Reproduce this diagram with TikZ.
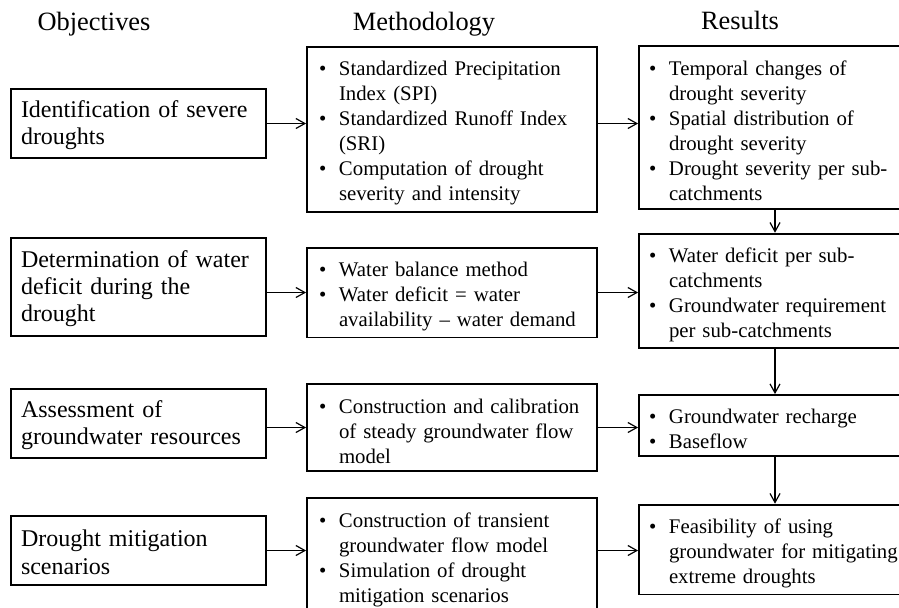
\documentclass[tikz,border=0pt]{standalone}
\usepackage{fontspec}
\setmainfont{Liberation Serif}
\usetikzlibrary{arrows.meta}
\newcommand{\bitem}{\makebox[10pt][l]{\textbullet}}
\newcommand{\bcont}{\makebox[10pt]{}}
\begin{document}
\begin{tikzpicture}[x=0.5pt, y=-0.5pt, head/.style={anchor=base, font=\fontsize{13.2}{15}\selectfont}, objbox/.style={draw, line width=0.9pt, minimum width=127.5pt, text width=117.5pt, inner xsep=5pt, align=left, font=\fontsize{12}{13.7}\selectfont, execute at begin node={\rule{0pt}{10pt}}}, methbox/.style={draw, line width=0.9pt, minimum width=145pt, text width=133pt, inner xsep=6pt, align=left, font=\fontsize{10.4}{12.5}\selectfont, execute at begin node={\rule{0pt}{11pt}}}, resbox/.style={draw, line width=0.9pt, minimum width=136pt, text width=126pt, inner xsep=5pt, align=left, font=\fontsize{10.4}{12.5}\selectfont, execute at begin node={\rule{0pt}{11pt}}}, arr/.style={-{Straight Barb[length=4.5pt,width=5pt]}, line width=0.6pt}]
      \useasboundingbox (0,0) rectangle (899,607);
      \clip (0,0) rectangle (899,607);

      \node[head] (h1) at (94,30) {Objectives};
      \node[head] (h2) at (424,30) {Methodology};
      \node[head] (h3) at (740,29) {Results};

      \node[objbox, minimum height=34.5pt] (o1) at (138.5,123.5) {Identification of severe\\droughts};
      \node[objbox, minimum height=49pt]   (o2) at (138.5,287) {Determination of water\\deficit during the\\drought};
      \node[objbox, minimum height=34.5pt] (o3) at (138.5,423.5) {Assessment of\\groundwater resources};
      \node[objbox, minimum height=34.5pt] (o4) at (138.5,550.5) {Drought mitigation\\scenarios};

      \node[methbox, minimum height=81.5pt] (m1) at (452,129.5) {\bitem Standardized Precipitation\\\bcont Index (SPI)\\\bitem Standardized Runoff Index\\\bcont (SRI)\\\bitem Computation of drought\\\bcont severity and intensity};
      \node[methbox, minimum height=43.5pt] (m2) at (452,292.5) {\bitem Water balance method\\\bitem Water deficit = water\\\bcont availability -- water demand};
      \node[methbox, minimum height=43.5pt] (m3) at (452,427.5) {\bitem Construction and calibration\\\bcont of steady groundwater flow\\\bcont model};
      \node[methbox, minimum height=58.5pt] (m4) at (452,556.5) {\bitem Construction of transient\\\bcont groundwater flow model\\\bitem Simulation of drought\\\bcont mitigation scenarios};

      \node[resbox, minimum height=81.5pt] (r1) at (775,127.5) {\bitem Temporal changes of\\\bcont drought severity\\\bitem Spatial distribution of\\\bcont drought severity\\\bitem Drought severity per sub-\\\bcont catchments};
      \node[resbox, minimum height=56pt]   (r2) at (775,291) {\bitem Water deficit per sub-\\\bcont catchments\\\bitem Groundwater requirement\\\bcont per sub-catchments};
      \node[resbox, minimum height=30.5pt] (r3) at (775,425.5) {\bitem Groundwater recharge\\\bitem Baseflow};
      \node[resbox, minimum height=43.5pt] (r4) at (775,549.5) {\bitem Feasibility of using\\\bcont groundwater for mitigating\\\bcont extreme droughts};

      % objectives to methodology
      \draw[arr] (o1.east) -- (o1.east -| m1.west);
      \draw[arr] (m2.west -| o2.east) -- (m2.west);
      \draw[arr] (m3.west -| o3.east) -- (m3.west);
      \draw[arr] (o4.east) -- (o4.east -| m4.west);

      % methodology to results
      \draw[arr] (o1.east -| m1.east) -- (o1.east -| r1.west);
      \draw[arr] (m2.east) -- (m2.east -| r2.west);
      \draw[arr] (m3.east) -- (m3.east -| r3.west);
      \draw[arr] (o4.east -| m4.east) -- (o4.east -| r4.west);

      % results chain
      \draw[arr] (r1.south) -- (r2.north);
      \draw[arr] (r2.south) -- (r3.north);
      \draw[arr] (r3.south) -- (r4.north);
    \end{tikzpicture}
\end{document}
